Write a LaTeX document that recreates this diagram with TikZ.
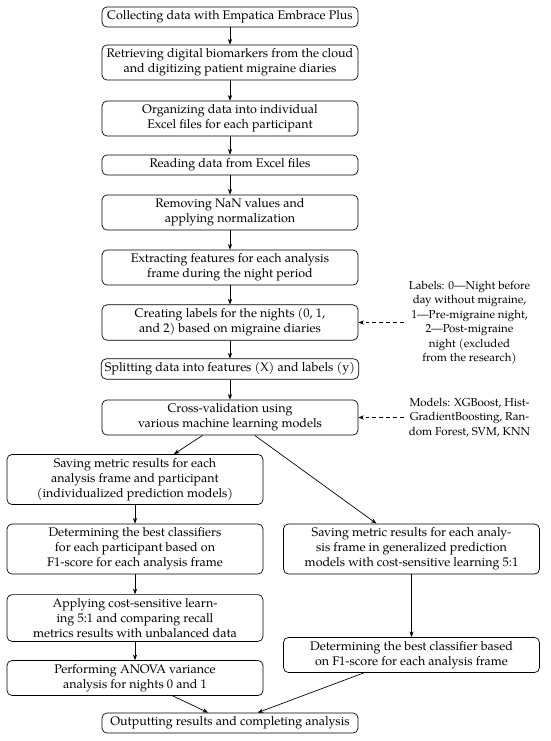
\documentclass[tikz,border=0pt]{standalone}
\usepackage{fontspec}
\setmainfont{TeX Gyre Pagella}
\usetikzlibrary{arrows.meta}
\begin{document}
\begin{tikzpicture}[x=0.8pt,y=-0.8pt,
  box/.style={draw, line width=0.55pt, rounded corners=4pt, align=center,
    minimum width=204.8pt, inner xsep=3pt, inner ysep=3pt, font=\fontsize{10}{12}\selectfont},
  lab/.style={align=center, inner sep=4pt, font=\fontsize{9.2}{11.6}\selectfont},
  arr/.style={line width=0.55pt, -{Stealth[length=4.5pt,width=3.4pt]}},
  darr/.style={arr, dashed, dash pattern=on 3pt off 2.5pt}]
\useasboundingbox (0,0) rectangle (550,741);
\node[box] (b1) at (230,17) {Collecting data with Empatica Embrace Plus};
\node[box] (b2) at (230,62.5) {Retrieving digital biomarkers from the cloud\\and digitizing patient migraine diaries};
\node[box] (b3) at (230,118.5) {Organizing data into individual\\Excel files for each participant};
\node[box] (b4) at (230,165) {Reading data from Excel files};
\node[box] (b5) at (230,212.5) {Removing NaN values and\\applying normalization};
\node[box] (b6) at (230,267.5) {Extracting features for each analysis\\frame during the night period};
\node[box] (b7) at (230,322.5) {Creating labels for the nights (0, 1,\\and 2) based on migraine diaries};
\node[box] (b8) at (230,369) {Splitting data into features (X) and labels (y)};
\node[box] (b9) at (230,417.5) {Cross-validation using\\various machine learning models};
\node[box] (l1) at (135,479.5) {Saving metric results for each\\analysis frame and participant\\(individualized prediction models)};
\node[box] (l2) at (135,549) {Determining the best classifiers\\for each participant based on\\F1-score for each analysis frame};
\node[box] (l3) at (135,618) {Applying cost-sensitive learn-\\ing 5:1 and comparing recall\\metrics results with unbalanced data};
\node[box] (l4) at (135,678) {Performing ANOVA variance\\analysis for nights 0 and 1};
\node[box] (r1) at (411.5,549) {Saving metric results for each analy-\\sis frame in generalized prediction\\models with cost-sensitive learning 5:1};
\node[box] (r2) at (411.5,655) {Determining the best classifier based\\on F1-score for each analysis frame};
\node[box] (out) at (230,723) {Outputting results and completing analysis};
\node[lab] (lab1) at (469.5,322.5) {Labels: 0---Night before\\day without migraine,\\1---Pre-migraine night,\\2---Post-migraine\\night (excluded\\from the research)};
\node[lab] (lab2) at (469.5,417.5) {Models: XGBoost, Hist-\\GradientBoosting, Ran-\\dom Forest, SVM, KNN};
\draw[arr] (b1) -- (b2);
\draw[arr] (b2) -- (b3);
\draw[arr] (b3) -- (b4);
\draw[arr] (b4) -- (b5);
\draw[arr] (b5) -- (b6);
\draw[arr] (b6) -- (b7);
\draw[arr] (b7) -- (b8);
\draw[arr] (b8) -- (b9);
\draw[arr] (b9) -- (l1);
\draw[arr] (b9) -- (r1);
\draw[arr] (l1) -- (l2);
\draw[arr] (l2) -- (l3);
\draw[arr] (l3) -- (l4);
\draw[arr] (r1) -- (r2);
\draw[arr] (l4) -- (out);
\draw[arr] (r2) -- (out);
\draw[darr] (lab1) -- (b7);
\draw[darr] (lab2) -- (b9);
\end{tikzpicture}
\end{document}
